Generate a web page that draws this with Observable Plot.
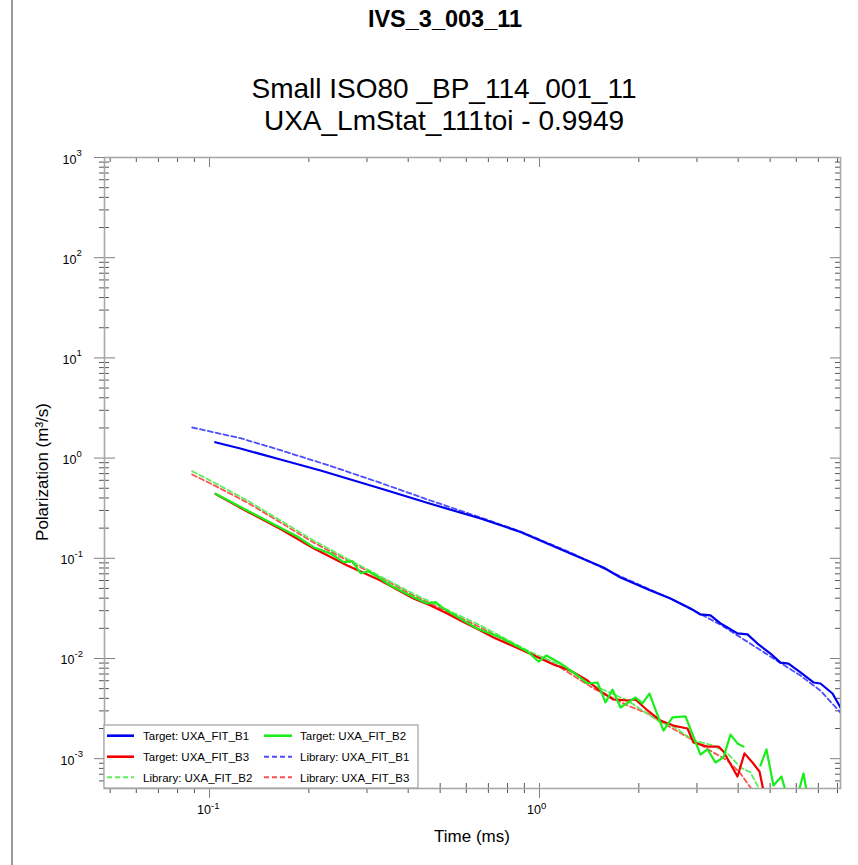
<!DOCTYPE html>
<html>
<head>
<meta charset="utf-8">
<script src="https://cdn.jsdelivr.net/npm/d3@7"></script>
<script src="https://cdn.jsdelivr.net/npm/@observablehq/plot@0.6"></script>
<style>
  body { margin: 0; background: #fff; font-family: Arial, "Liberation Sans", sans-serif; }
  #wrap { position: relative; width: 858px; height: 865px; overflow: hidden; background: #fff; }
  .t { position: absolute; white-space: nowrap; line-height: 1; color: #000; }
  .c { transform: translateX(-50%); }
</style>
</head>
<body>
<div id="wrap"></div>
<script>
// ---------- data ----------
// Target: UXA_FIT_B1 (time ms, polarization m3/s)
const tTargetB1 = [0.104, 0.124, 0.164, 0.217, 0.330, 0.467, 0.663, 0.876, 1.241, 1.563, 1.760, 2.170, 2.494, 2.868, 3.075, 3.298, 3.536, 3.713, 3.981, 4.268, 4.577, 5.012, 5.374, 5.682, 6.179, 6.767, 7.104, 7.726, 8.17];
const vTargetB1 = [1.44, 1.247, 0.968, 0.752, 0.497, 0.350, 0.2495, 0.183, 0.1116, 0.0810, 0.0643, 0.0477, 0.0397, 0.0316, 0.0275, 0.0269, 0.0224, 0.0204, 0.0178, 0.0174, 0.0141, 0.0112, 0.0091, 0.0089, 0.00725, 0.00576, 0.00563, 0.00447, 0.00324];

// Library: UXA_FIT_B1
const tLibraryB1 = [0.0886, 0.124, 0.164, 0.2326, 0.330, 0.467, 0.663, 0.876, 1.241, 1.760, 2.494, 3.536, 5.012, 6.179, 7.104, 8.17];
const vLibraryB1 = [2.02, 1.58, 1.20, 0.835, 0.565, 0.3774, 0.2554, 0.1851, 0.1143, 0.0658, 0.0397, 0.0218, 0.01045, 0.00675, 0.00478, 0.00288];

// Target: UXA_FIT_B2 (null = gap, value not positive)
const tTargetB2 = [0.1043, 0.1301, 0.1641, 0.1844, 0.2066, 0.2326, 0.2547, 0.2706, 0.2869, 0.3032, 0.3298, 0.3535, 0.4151, 0.4568, 0.4840, 0.5118, 0.5884, 0.6474, 0.7616, 0.9197, 0.993, 1.050, 1.158, 1.268, 1.398, 1.499, 1.585, 1.664, 1.760, 1.954, 2.051, 2.154, 2.375, 2.530, 2.770, 3.075, 3.229, 3.415, 3.611, 3.792, 3.981, 4.152, 4.40, 4.674, 4.873, 5.117, 5.411, 5.845, 6.310, 6.488, 6.862];
const vTargetB2 = [0.440, 0.300, 0.2016, 0.1651, 0.1291, 0.1117, 0.0914, 0.0936, 0.0710, 0.0743, 0.0624, 0.0535, 0.0409, 0.0354, 0.0365, 0.0316, 0.0239, 0.0199, 0.0162, 0.01174, 0.00933, 0.01071, 0.00892, 0.00725, 0.00563, 0.00576, 0.00364, 0.00490, 0.00324, 0.00408, 0.00356, 0.00447, 0.00191, 0.00258, 0.00264, 0.00110, 0.00124, 0.000917, 0.00103, 0.00174, 0.00142, 0.00132, null, 0.000855, 0.00124, 0.000540, 0.000664, 0.000271, 0.000712, 0.000429, 0.0002];

// Target: UXA_FIT_B3
const tTargetB3 = [0.1043, 0.1301, 0.1641, 0.2066, 0.2615, 0.3298, 0.4151, 0.4674, 0.5252, 0.5762, 0.6625, 0.7254, 0.9197, 1.103, 1.241, 1.398, 1.530, 1.676, 1.848, 1.954, 2.125, 2.326, 2.547, 2.809, 2.929, 3.229, 3.487, 3.611, 3.981, 4.181, 4.421, 4.642, 4.806, 5.012];
const vTargetB3 = [0.438, 0.293, 0.1960, 0.1260, 0.0847, 0.0600, 0.0397, 0.0338, 0.0281, 0.0239, 0.0190, 0.0162, 0.01148, 0.00871, 0.00759, 0.00603, 0.00468, 0.00390, 0.00381, 0.00390, 0.00303, 0.00240, 0.00214, 0.00200, 0.00145, 0.00132, 0.00132, 0.00118, 0.000664, 0.00113, 0.000917, 0.000745, 0.000429, 0.00024];

// Library: UXA_FIT_B2
const tLibraryB2 = [0.0886, 0.1028, 0.1301, 0.1641, 0.2066, 0.2615, 0.3298, 0.4151, 0.5252, 0.6625, 0.9197, 1.158, 1.458, 1.848, 2.326, 2.547, 2.929, 3.368, 3.713, 4.066, 4.359, 4.577, 4.773];
const vLibraryB2 = [0.740, 0.5746, 0.3774, 0.2383, 0.1505, 0.0989, 0.0658, 0.0442, 0.0306, 0.02135, 0.01202, 0.00851, 0.00538, 0.00381, 0.00230, 0.00210, 0.00152, 0.00135, 0.00113, 0.000817, 0.000729, 0.000540, 0.000383];

// Library: UXA_FIT_B3
const tLibraryB3 = [0.0886, 0.1028, 0.1301, 0.1641, 0.2066, 0.2615, 0.3298, 0.4151, 0.5252, 0.6625, 0.9197, 1.158, 1.458, 1.848, 2.125, 2.443, 2.929, 3.368, 3.713, 4.066, 4.359, 4.546];
const vLibraryB3 = [0.686, 0.539, 0.3604, 0.2277, 0.1438, 0.0951, 0.0643, 0.0425, 0.0294, 0.0204, 0.01148, 0.00813, 0.00502, 0.00340, 0.00283, 0.00214, 0.00152, 0.00115, 0.000959, 0.000712, 0.000516, 0.000383];

// ticks
const yExpPositive = [0, 1, 2, 3];
const yExpNegative = [-3, -2, -1];
const xExp = [-1, 0];
const xMinorTicks = [0.05, 0.06, 0.07, 0.08, 0.09, 0.2, 0.3, 0.4, 0.5, 0.6, 0.7, 0.8, 0.9, 2, 3, 4, 5, 6, 7, 8];
const minorMultipliers = [2, 3, 4, 5, 6, 7, 8, 9];
const yDecades = [-4, -3, -2, -1, 0, 1, 2];

// legend entries
const legendLabels = ["Target: UXA_FIT_B1", "Target: UXA_FIT_B2", "Target: UXA_FIT_B3", "Library: UXA_FIT_B1", "Library: UXA_FIT_B2", "Library: UXA_FIT_B3"];

// ---------- build ----------
const xDomain = [0.04805, 8.17];
const yDomain = [5.04e-4, 1000];
const toRows = (t, v) => t.map((x, i) => ({t: x, v: v[i]}));

const styles = {
  "Target: UXA_FIT_B1": {stroke: "#0000f0", width: 2.2, dash: null},
  "Target: UXA_FIT_B2": {stroke: "#1aee1a", width: 2.2, dash: null},
  "Target: UXA_FIT_B3": {stroke: "#f00000", width: 2.2, dash: null},
  "Library: UXA_FIT_B1": {stroke: "#4d4dff", width: 1.8, dash: "5,3"},
  "Library: UXA_FIT_B2": {stroke: "#5cee5c", width: 1.8, dash: "5,3"},
  "Library: UXA_FIT_B3": {stroke: "#ff5050", width: 1.8, dash: "5,3"}
};
const seriesData = {
  "Target: UXA_FIT_B1": toRows(tTargetB1, vTargetB1),
  "Target: UXA_FIT_B2": toRows(tTargetB2, vTargetB2),
  "Target: UXA_FIT_B3": toRows(tTargetB3, vTargetB3),
  "Library: UXA_FIT_B1": toRows(tLibraryB1, vLibraryB1),
  "Library: UXA_FIT_B2": toRows(tLibraryB2, vLibraryB2),
  "Library: UXA_FIT_B3": toRows(tLibraryB3, vLibraryB3)
};
const drawOrder = ["Library: UXA_FIT_B3", "Library: UXA_FIT_B2", "Library: UXA_FIT_B1", "Target: UXA_FIT_B3", "Target: UXA_FIT_B2", "Target: UXA_FIT_B1"];

const yMajor = [...yExpNegative, ...yExpPositive].map(e => Math.pow(10, e));
const yMinor = yDecades.flatMap(d => minorMultipliers.map(m => m * Math.pow(10, d)))
  .filter(v => v > yDomain[0] && v < yDomain[1]);
const xMajor = xExp.map(e => Math.pow(10, e));

const W = 858, H = 865, ML = 104, MR = 18, MT = 157, MB = 77;
const FW = W - ML - MR, FH = H - MT - MB;
const tickMajor = "#808080", tickMinor = "#555";
const FF = "Arial, 'Liberation Sans', sans-serif";

const marks = [
  // left axis ticks (straddling)
  Plot.tickY(yMajor, {y: d => d, stroke: tickMajor, insetLeft: -10, insetRight: FW - 11}),
  Plot.tickY(yMinor, {y: d => d, stroke: tickMinor, insetLeft: -5, insetRight: FW - 5}),
  // right axis ticks (inside)
  Plot.tickY(yMajor, {y: d => d, stroke: tickMajor, insetLeft: FW - 10}),
  Plot.tickY(yMinor, {y: d => d, stroke: tickMinor, insetLeft: FW - 5}),
  // bottom ticks
  Plot.tickX(xMajor, {x: d => d, stroke: tickMajor, insetTop: FH - 5, insetBottom: -10}),
  Plot.tickX(xMinorTicks, {x: d => d, stroke: tickMinor, insetTop: FH - 5, insetBottom: -5}),
  // top ticks
  Plot.tickX(xMajor, {x: d => d, stroke: tickMajor, insetBottom: FH - 10}),
  Plot.tickX(xMinorTicks, {x: d => d, stroke: tickMinor, insetBottom: FH - 5}),
  Plot.frame({stroke: "#a8a8a8", strokeWidth: 1.6}),
  // y tick labels
  Plot.text(yExpPositive, {y: e => Math.pow(10, e), text: () => "10", frameAnchor: "left", textAnchor: "end", dx: -28, dy: 2, fontSize: 12.5, fill: "#000"}),
  Plot.text(yExpPositive, {y: e => Math.pow(10, e), text: e => String(e), frameAnchor: "left", textAnchor: "start", dx: -28, dy: -4.5, fontSize: 9.5, fill: "#000"}),
  Plot.text(yExpNegative, {y: e => Math.pow(10, e), text: () => "10", frameAnchor: "left", textAnchor: "end", dx: -30, dy: 2, fontSize: 12.5, fill: "#000"}),
  Plot.text(yExpNegative, {y: e => Math.pow(10, e), text: e => String(e), frameAnchor: "left", textAnchor: "start", dx: -30, dy: -4.5, fontSize: 9.5, fill: "#000"}),
  // x tick labels
  Plot.text(xExp, {x: e => Math.pow(10, e), text: () => "10", frameAnchor: "bottom", textAnchor: "end", dx: 1.5, dy: 25.5, fontSize: 12.5, fill: "#000"}),
  Plot.text(xExp, {x: e => Math.pow(10, e), text: e => String(e), frameAnchor: "bottom", textAnchor: "start", dx: 1.5, dy: 20, fontSize: 9.5, fill: "#000"}),
  // series
  ...drawOrder.map(k => Plot.line(seriesData[k], {
    x: "t", y: "v", stroke: styles[k].stroke, strokeWidth: styles[k].width,
    strokeDasharray: styles[k].dash, clip: true, curve: "linear"
  }))
];

const svg = Plot.plot({
  width: W, height: H,
  marginLeft: ML, marginRight: MR, marginTop: MT, marginBottom: MB,
  x: {type: "log", domain: xDomain, axis: null},
  y: {type: "log", domain: yDomain, axis: null},
  style: {fontFamily: FF, background: "transparent", overflow: "visible"},
  marks
});
svg.style.position = "absolute";
svg.style.left = "0px";
svg.style.top = "0px";

const wrap = document.getElementById("wrap");

// page border line on the left
const border = document.createElement("div");
border.style.cssText = "position:absolute;left:11px;top:0;width:1.5px;height:865px;background:#9a9a9a;";
wrap.appendChild(border);

wrap.appendChild(svg);

function addText(txt, css, cls) {
  const d = document.createElement("div");
  d.className = "t " + (cls || "");
  d.textContent = txt;
  d.style.cssText += css;
  wrap.appendChild(d);
  return d;
}
addText("IVS_3_003_11", "left:445px;top:8px;font-size:23.5px;font-weight:bold;", "c");
addText("Small ISO80 _BP_114_001_11", "left:444px;top:75px;font-size:28px;", "c");
addText("UXA_LmStat_111toi - 0.9949", "left:444px;top:107px;font-size:28px;", "c");
addText("Time (ms)", "left:472px;top:828px;font-size:17px;", "c");
addText("Polarization (m\u00b3/s)", "left:42px;top:472px;font-size:17px;transform:translate(-50%,-50%) rotate(-90deg);");

// legend box
const ns = "http://www.w3.org/2000/svg";
const lg = document.createElementNS(ns, "svg");
lg.setAttribute("width", 316);
lg.setAttribute("height", 65);
lg.style.cssText = "position:absolute;left:103px;top:724px;overflow:visible;";
const rect = document.createElementNS(ns, "rect");
rect.setAttribute("x", 1); rect.setAttribute("y", 1);
rect.setAttribute("width", 314); rect.setAttribute("height", 63);
rect.setAttribute("fill", "#fff"); rect.setAttribute("stroke", "#a0a0a0"); rect.setAttribute("stroke-width", 1.2);
lg.appendChild(rect);
const rowsY = [11.7, 32.7, 53.3];
const cols = [{x1: 4, x2: 31, tx: 40}, {x1: 161, x2: 189, tx: 197}];
legendLabels.forEach((lab, i) => {
  const r = Math.floor(i / 2), c = i % 2;
  const s = styles[lab];
  const ln = document.createElementNS(ns, "line");
  ln.setAttribute("x1", cols[c].x1); ln.setAttribute("x2", cols[c].x2);
  ln.setAttribute("y1", rowsY[r]); ln.setAttribute("y2", rowsY[r]);
  ln.setAttribute("stroke", s.stroke); ln.setAttribute("stroke-width", s.dash ? 2 : 2.6);
  if (s.dash) ln.setAttribute("stroke-dasharray", s.dash);
  lg.appendChild(ln);
  const tx = document.createElementNS(ns, "text");
  tx.setAttribute("x", cols[c].tx); tx.setAttribute("y", rowsY[r] + 4.2);
  tx.setAttribute("font-size", 11.5);
  tx.setAttribute("font-family", FF);
  tx.setAttribute("fill", "#000");
  tx.textContent = lab;
  lg.appendChild(tx);
});
wrap.appendChild(lg);
</script>
</body>
</html>
